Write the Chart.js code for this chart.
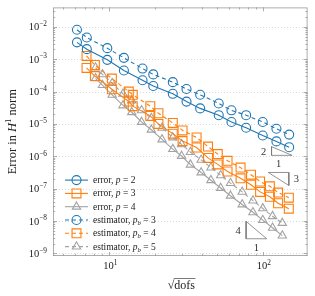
<!DOCTYPE html>
<html>
<head>
<meta charset="utf-8">
<script src="https://cdn.jsdelivr.net/npm/chart.js@4.4.0/dist/chart.umd.min.js"></script>
<style>
  html, body { margin: 0; padding: 0; background: #fff; }
  #wrap { width: 315px; height: 296px; }
</style>
</head>
<body>
<div id="wrap"><canvas id="errChart"></canvas></div>
<script>
// sqrt(dofs) of each refinement step, H1 error and estimator per degree
const sqrtDofsP2 = [6.16, 7.14, 9.71, 12.46, 16.47, 19.35, 25.94, 31.86, 39.12, 51.68, 62.55, 77.94, 100, 122.8, 148.6];
const errorP2 = [3.31e-3, 2.04e-3, 9.55e-4, 4.47e-4, 2.24e-4, 1.48e-4, 8.51e-5, 4.90e-5, 3.02e-5, 1.86e-5, 1.15e-5, 7.59e-6, 4.37e-6, 2.88e-6, 1.91e-6];
const estimatorP2 = [8.13e-3, 4.68e-3, 2.19e-3, 1.10e-3, 5.13e-4, 3.39e-4, 1.95e-4, 1.20e-4, 7.94e-5, 4.27e-5, 2.63e-5, 1.86e-5, 1.15e-5, 7.08e-6, 4.68e-6];

const sqrtDofsP3 = [7.11, 8.06, 10.40, 13.41, 14.22, 18.51, 20.91, 25.94, 30.04, 37.06, 43.99, 50.93, 58.98, 71.70, 83.85, 96.12, 111.3, 125.9, 147.9];
const errorP3 = [5.38e-4, 3.01e-4, 1.18e-4, 4.90e-5, 3.54e-5, 1.77e-5, 1.00e-5, 5.01e-6, 2.94e-6, 1.87e-6, 8.91e-7, 5.61e-7, 3.39e-7, 2.09e-7, 1.32e-7, 7.94e-8, 5.62e-8, 3.54e-8, 2.40e-8];
const estimatorP3 = [1.26e-3, 6.62e-4, 2.52e-4, 9.98e-5, 7.94e-5, 3.54e-5, 2.14e-5, 1.07e-5, 6.30e-6, 3.80e-6, 2.00e-6, 1.17e-6, 7.24e-7, 4.47e-7, 2.70e-7, 1.66e-7, 1.18e-7, 7.57e-8, 5.25e-8];

const sqrtDofsP4 = [8.14, 9.03, 10.45, 12.28, 14.01, 16.23, 18.79, 22.08, 25.94, 29.60, 33.79, 39.70, 45.97, 53.22, 61.63, 73.48, 86.36, 100, 115.8, 134.1];
const errorP4 = [2.57e-4, 1.58e-4, 7.94e-5, 3.72e-5, 2.29e-5, 1.15e-5, 6.61e-6, 3.31e-6, 1.66e-6, 1.02e-6, 5.50e-7, 3.16e-7, 1.82e-7, 1.05e-7, 6.03e-8, 3.24e-8, 1.86e-8, 1.07e-8, 6.17e-9, 3.55e-9];
const estimatorP4 = [5.50e-4, 3.39e-4, 1.82e-4, 8.51e-5, 5.25e-5, 2.63e-5, 1.51e-5, 7.59e-6, 3.80e-6, 2.34e-6, 1.35e-6, 7.76e-7, 4.47e-7, 2.57e-7, 1.48e-7, 7.94e-8, 4.27e-8, 2.45e-8, 1.41e-8, 8.71e-9];

// legend labels, as [text, style] pieces (i = italic, isub = italic subscript)
const legendLabels = [
    [['error, '], ['p', 'i'], [' = 2']],
    [['error, '], ['p', 'i'], [' = 3']],
    [['error, '], ['p', 'i'], [' = 4']],
    [['estimator, '], ['p', 'i'], ['b', 'isub'], [' = 3']],
    [['estimator, '], ['p', 'i'], ['b', 'isub'], [' = 4']],
    [['estimator, '], ['p', 'i'], ['b', 'isub'], [' = 5']]
];

// axis decades
const xDecades = [1, 2];
const yDecades = [-9, -8, -7, -6, -5, -4, -3, -2];

// slope triangles: convergence rate and where they sit (data units)
const slopeRates = [2, 3, 4];
const slopeMarks = [
    { x0: 114.1, x1: 155.2, corner: 1.07e-6, kind: 'lower', runLabel: false },
    { x0: 108.7, x1: 147.9, corner: 3.16e-7, kind: 'upper', runLabel: true },
    { x0: 77.9, x1: 106.1, corner: 2.83e-9, kind: 'lower', runLabel: true }
];

const BLUE = '#1f77b4';
const ORANGE = '#ff7f0e';
const GREY = '#a3a3a3';
const AXIS = '#9a9a9a';
const FONT = '"Liberation Serif", "DejaVu Serif", serif';
const DASH = [4, 3];

function series(xs, ys, color, dashed, style, r) {
    return {
        data: xs.map((x, i) => ({ x: x, y: ys[i] })),
        borderColor: color,
        borderWidth: 1.1,
        borderDash: dashed ? DASH : [],
        pointStyle: style,
        pointRadius: r,
        pointBorderWidth: 1.1,
        pointBorderColor: color,
        pointBackgroundColor: 'rgba(0,0,0,0)',
        tension: 0,
        fill: false
    };
}

const markerSpecs = [
    { color: BLUE, style: 'circle', r: 4.5, dashed: false },
    { color: ORANGE, style: 'rect', r: 6.3, dashed: false },
    { color: GREY, style: 'triangle', r: 4.8, dashed: false },
    { color: BLUE, style: 'circle', r: 4.5, dashed: true },
    { color: ORANGE, style: 'rect', r: 6.3, dashed: true },
    { color: GREY, style: 'triangle', r: 4.8, dashed: true }
];

const datasets = [
    series(sqrtDofsP2, errorP2, BLUE, false, 'circle', 4.5),
    series(sqrtDofsP3, errorP3, ORANGE, false, 'rect', 6.3),
    series(sqrtDofsP4, errorP4, GREY, false, 'triangle', 4.8),
    series(sqrtDofsP2, estimatorP2, BLUE, true, 'circle', 4.5),
    series(sqrtDofsP3, estimatorP3, ORANGE, true, 'rect', 6.3),
    series(sqrtDofsP4, estimatorP4, GREY, true, 'triangle', 4.8)
];

// slope triangles as closed line datasets
slopeMarks.forEach((m, i) => {
    const drop = Math.pow(10, slopeRates[i] * Math.log10(m.x1 / m.x0));
    let pts;
    if (m.kind === 'lower') {
        pts = [{ x: m.x0, y: m.corner * drop }, { x: m.x0, y: m.corner }, { x: m.x1, y: m.corner }, { x: m.x0, y: m.corner * drop }];
    } else {
        pts = [{ x: m.x0, y: m.corner }, { x: m.x1, y: m.corner }, { x: m.x1, y: m.corner / drop }, { x: m.x0, y: m.corner }];
    }
    datasets.push({ data: pts, borderColor: '#777', borderWidth: 0.8, pointRadius: 0, tension: 0, fill: false });
});

function drawMarker(ctx, style, x, y, r) {
    ctx.beginPath();
    if (style === 'circle') {
        ctx.arc(x, y, r, 0, Math.PI * 2);
    } else if (style === 'rect') {
        const s = r * Math.SQRT1_2;
        ctx.rect(x - s, y - s, 2 * s, 2 * s);
    } else {
        ctx.moveTo(x, y - r);
        ctx.lineTo(x + 0.866 * r, y + 0.5 * r);
        ctx.lineTo(x - 0.866 * r, y + 0.5 * r);
        ctx.closePath();
    }
    ctx.stroke();
}

// write text made of pieces, returns width
function drawPieces(ctx, pieces, x, y, size, measureOnly) {
    let w = 0;
    pieces.forEach(p => {
        const kind = p[1] || '';
        const small = kind === 'isub' || kind === 'sup';
        const sz = small ? size * 0.7 : size;
        ctx.font = (kind === 'i' || kind === 'isub' ? 'italic ' : '') + sz + 'px ' + FONT;
        let dy = 0;
        if (kind === 'isub') dy = size * 0.22;
        if (kind === 'sup') dy = -size * 0.4;
        if (!measureOnly) ctx.fillText(p[0], x + w, y + dy);
        w += ctx.measureText(p[0]).width;
    });
    return w;
}

function powLabel(ctx, e, x, y, align) {
    const pieces = [['10'], [(e < 0 ? '\u2212' : '') + Math.abs(e), 'sup']];
    const w = drawPieces(ctx, pieces, 0, 0, 10.5, true);
    const start = align === 'right' ? x - w : x - w / 2;
    drawPieces(ctx, pieces, start, y, 10.5, false);
}

const axisDecor = {
    id: 'axisDecor',
    beforeDatasetsDraw(chart) {
        const { ctx, chartArea: a, scales } = chart;
        ctx.save();
        ctx.strokeStyle = '#cfcfcf';
        ctx.lineWidth = 0.8;
        ctx.setLineDash([1, 2]);
        yDecades.forEach(e => {
            const py = Math.round(scales.y.getPixelForValue(Math.pow(10, e))) + 0.5;
            ctx.beginPath();
            ctx.moveTo(a.left, py);
            ctx.lineTo(a.right, py);
            ctx.stroke();
        });
        ctx.restore();
    },
    afterDatasetsDraw(chart) {
        const { ctx, chartArea: a, scales } = chart;
        const sx = scales.x, sy = scales.y;
        ctx.save();
        ctx.strokeStyle = AXIS;
        ctx.lineWidth = 0.8;
        ctx.setLineDash([]);

        // minor and major ticks, inside, on all four sides
        for (let e = 0; e <= 2; e++) {
            for (let k = 1; k <= 9; k++) {
                const v = k * Math.pow(10, e);
                if (v < sx.min || v > sx.max) continue;
                const px = Math.round(sx.getPixelForValue(v)) + 0.5;
                const len = k === 1 ? 4 : 2.2;
                ctx.beginPath();
                ctx.moveTo(px, a.bottom); ctx.lineTo(px, a.bottom - len);
                ctx.moveTo(px, a.top); ctx.lineTo(px, a.top + len);
                ctx.stroke();
            }
        }
        for (let e = -10; e <= -1; e++) {
            for (let k = 1; k <= 9; k++) {
                const v = k * Math.pow(10, e);
                if (v < sy.min || v > sy.max) continue;
                const py = Math.round(sy.getPixelForValue(v)) + 0.5;
                const len = k === 1 ? 4 : 2.2;
                ctx.beginPath();
                ctx.moveTo(a.left, py); ctx.lineTo(a.left + len, py);
                ctx.moveTo(a.right, py); ctx.lineTo(a.right - len, py);
                ctx.stroke();
            }
        }
        ctx.strokeRect(a.left + 0.5, a.top + 0.5, a.right - a.left - 1, a.bottom - a.top - 1);

        // tick labels
        ctx.fillStyle = '#222';
        ctx.textBaseline = 'alphabetic';
        yDecades.forEach(e => {
            powLabel(ctx, e, a.left - 6, sy.getPixelForValue(Math.pow(10, e)) + 3.5, 'right');
        });
        xDecades.forEach(e => {
            powLabel(ctx, e, sx.getPixelForValue(Math.pow(10, e)) + 1, a.bottom + 13, 'center');
        });

        // axis titles
        const yTitle = [['Error in '], ['H', 'i'], ['1', 'sup'], [' norm']];
        ctx.save();
        ctx.translate(12, (a.top + a.bottom) / 2);
        ctx.rotate(-Math.PI / 2);
        const tw = drawPieces(ctx, yTitle, 0, 0, 12.5, true);
        drawPieces(ctx, yTitle, -tw / 2, 4, 12.5, false);
        ctx.restore();

        ctx.font = '12px ' + FONT;
        const w1 = ctx.measureText('\u221A').width;
        const w2 = ctx.measureText('dofs').width;
        const cx = (a.left + a.right) / 2 + 1;
        const by = a.bottom + 33;
        const sx0 = cx - (w1 + w2) / 2;
        ctx.fillText('\u221A', sx0, by);
        ctx.fillText('dofs', sx0 + w1, by);
        ctx.strokeStyle = '#222';
        ctx.lineWidth = 0.6;
        ctx.beginPath();
        ctx.moveTo(sx0 + w1 - 0.5, by - 10.5);
        ctx.lineTo(sx0 + w1 + w2 + 0.5, by - 10.5);
        ctx.stroke();

        // slope triangle labels
        ctx.font = '10.5px ' + FONT;
        ctx.textAlign = 'center';
        ctx.fillStyle = '#333';
        slopeMarks.forEach((m, i) => {
            const drop = Math.pow(10, slopeRates[i] * Math.log10(m.x1 / m.x0));
            const p0 = sx.getPixelForValue(m.x0), p1 = sx.getPixelForValue(m.x1);
            const pc = sy.getPixelForValue(m.corner);
            if (m.kind === 'lower') {
                const pt = sy.getPixelForValue(m.corner * drop);
                ctx.fillText(String(slopeRates[i]), p0 - 8, (pt + pc) / 2 + 3.5);
                if (m.runLabel) ctx.fillText('1', (p0 + p1) / 2, pc + 12);
            } else {
                const pb = sy.getPixelForValue(m.corner / drop);
                ctx.fillText(String(slopeRates[i]), p1 + 7.5, (pc + pb) / 2 + 3.5);
                if (m.runLabel) ctx.fillText('1', (p0 + p1) / 2, pc - 5);
            }
        });
        ctx.textAlign = 'left';

        // legend
        legendLabels.forEach((lab, i) => {
            const spec = markerSpecs[i];
            const ly = a.top + 172.7 + i * 13.3;
            const lx = a.left + 12;
            ctx.strokeStyle = spec.color;
            ctx.lineWidth = 1.1;
            ctx.setLineDash(spec.dashed ? DASH : []);
            ctx.beginPath();
            ctx.moveTo(lx, ly);
            ctx.lineTo(lx + 23, ly);
            ctx.stroke();
            ctx.setLineDash([]);
            drawMarker(ctx, spec.style, lx + 11.5, ly, spec.r);
            ctx.fillStyle = '#222';
            drawPieces(ctx, lab, lx + 28, ly + 3, 9.5, false);
        });
        ctx.restore();
    }
};

const ctxErr = document.getElementById('errChart').getContext('2d');
const errChart = new Chart(ctxErr, {
    type: 'line',
    data: { datasets: datasets },
    options: {
        responsive: true,
        maintainAspectRatio: false,
        animation: false,
        layout: { padding: { top: 0, right: 2, left: 0, bottom: 0 } },
        plugins: {
            legend: { display: false },
            tooltip: { enabled: false }
        },
        scales: {
            x: {
                type: 'logarithmic',
                bounds: 'data',
                min: 4.3,
                max: 196,
                grid: { display: false },
                border: { display: false },
                ticks: { display: false },
                afterFit(scale) { scale.height = 40; }
            },
            y: {
                type: 'logarithmic',
                bounds: 'data',
                min: 8.3e-10,
                max: 0.0398,
                grid: { display: false },
                border: { display: false },
                ticks: { display: false },
                afterFit(scale) { scale.width = 53; }
            }
        }
    },
    plugins: [axisDecor]
});
</script>
</body>
</html>
